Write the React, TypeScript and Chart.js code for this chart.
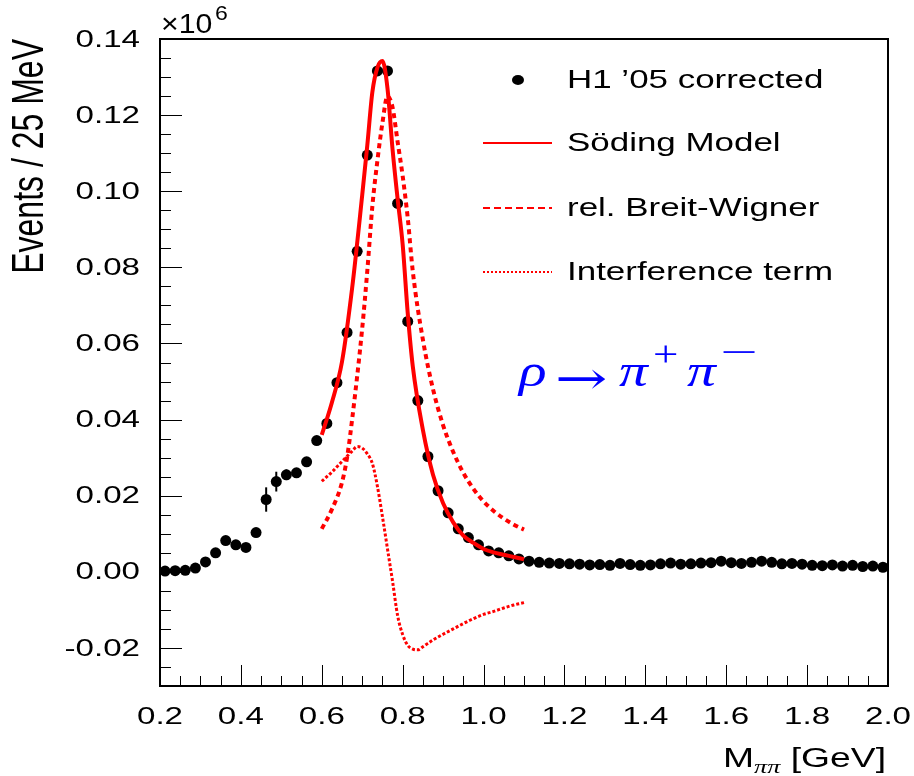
import React, { useEffect, useRef } from 'react';
import { Chart, registerables } from 'chart.js';

Chart.register(...registerables);

// ---------- data ----------
const massBins = [
  0.2125, 0.2375, 0.2625, 0.2875, 0.3125, 0.3375, 0.3625, 0.3875, 0.4125, 0.4375,
  0.4625, 0.4875, 0.5125, 0.5375, 0.5625, 0.5875, 0.6125, 0.6375, 0.6625, 0.6875,
  0.7125, 0.7375, 0.7625, 0.7875, 0.8125, 0.8375, 0.8625, 0.8875, 0.9125, 0.9375,
  0.9625, 0.9875, 1.0125, 1.0375, 1.0625, 1.0875, 1.1125, 1.1375, 1.1625, 1.1875,
  1.2125, 1.2375, 1.2625, 1.2875, 1.3125, 1.3375, 1.3625, 1.3875, 1.4125, 1.4375,
  1.4625, 1.4875, 1.5125, 1.5375, 1.5625, 1.5875, 1.6125, 1.6375, 1.6625, 1.6875,
  1.7125, 1.7375, 1.7625, 1.7875, 1.8125, 1.8375, 1.8625, 1.8875, 1.9125, 1.9375,
  1.9625, 1.9875,
];
const h1Events = [
  0.0002, 0.0003, 0.0004, 0.0010, 0.0026, 0.0050, 0.0082, 0.0071, 0.0064, 0.0103,
  0.0190, 0.0237, 0.0255, 0.0260, 0.0289, 0.0345, 0.0390, 0.0497, 0.0629, 0.0842,
  0.1095, 0.1316, 0.1316, 0.0968, 0.0658, 0.0450, 0.0303, 0.0213, 0.0155, 0.0113,
  0.0090, 0.0071, 0.0055, 0.0050, 0.0042, 0.0034, 0.0028, 0.0025, 0.0023, 0.0022,
  0.0021, 0.0020, 0.0018, 0.0019, 0.0017, 0.0022, 0.0019, 0.0017, 0.0018, 0.0021,
  0.0023, 0.0020, 0.0021, 0.0023, 0.0024, 0.0028, 0.0024, 0.0022, 0.0025, 0.0028,
  0.0025, 0.0021, 0.0022, 0.0020, 0.0017, 0.0016, 0.0018, 0.0015, 0.0017, 0.0014,
  0.0015, 0.0012,
];
const h1Errors = [
  0.0004, 0.0004, 0.0004, 0.0005, 0.0006, 0.0007, 0.0009, 0.0009, 0.0009, 0.0012,
  0.0032, 0.0026, 0.0014, 0.0012, 0.0012, 0.0012, 0.0012, 0.0012, 0.0012, 0.0012,
  0.0012, 0.0012, 0.0012, 0.0012, 0.0010, 0.0009, 0.0008, 0.0007, 0.0006, 0.0006,
  0.0005, 0.0005, 0.0004, 0.0004, 0.0004, 0.0004, 0.0004, 0.0004, 0.0004, 0.0004,
  0.0004, 0.0004, 0.0004, 0.0004, 0.0004, 0.0004, 0.0004, 0.0004, 0.0004, 0.0004,
  0.0004, 0.0004, 0.0004, 0.0004, 0.0004, 0.0004, 0.0004, 0.0004, 0.0004, 0.0004,
  0.0004, 0.0004, 0.0004, 0.0004, 0.0004, 0.0004, 0.0004, 0.0004, 0.0004, 0.0004,
  0.0004, 0.0004,
];

const modelMass = [
  0.6, 0.625, 0.65, 0.675, 0.7, 0.7125, 0.725, 0.7375, 0.75, 0.7625,
  0.775, 0.7875, 0.8, 0.8125, 0.825, 0.85, 0.875, 0.9, 0.925, 0.95,
  0.975, 1.0, 1.025, 1.05, 1.075, 1.1,
];
const sodingModel = [
  0.036, 0.0445, 0.0552, 0.0745, 0.099, 0.112, 0.126, 0.1325, 0.1342, 0.127,
  0.111, 0.098, 0.086, 0.068, 0.054, 0.0373, 0.0255, 0.018, 0.013, 0.0095,
  0.0076, 0.006, 0.0051, 0.0045, 0.0039, 0.0033,
];

const bwMass = [
  0.6, 0.625, 0.65, 0.6625, 0.675, 0.7, 0.7125, 0.725, 0.7375, 0.75,
  0.7625, 0.775, 0.7875, 0.8, 0.8125, 0.825, 0.85, 0.875, 0.9, 0.925,
  0.95, 0.975, 1.0, 1.025, 1.05, 1.075, 1.1,
];
const breitWigner = [
  0.0113, 0.0164, 0.0235, 0.0300, 0.040, 0.064, 0.079, 0.096, 0.108, 0.118,
  0.125, 0.122, 0.113, 0.104, 0.093, 0.079, 0.061, 0.048, 0.0385, 0.0315,
  0.026, 0.0218, 0.0185, 0.016, 0.014, 0.0124, 0.0111,
];

const interfMass = [
  0.6, 0.625, 0.65, 0.675, 0.6875, 0.7, 0.7125, 0.725, 0.7375, 0.75,
  0.7625, 0.775, 0.7875, 0.8, 0.8125, 0.825, 0.8375, 0.85, 0.875, 0.9,
  0.925, 0.95, 0.975, 1.0, 1.025, 1.05, 1.075, 1.1,
];
const interference = [
  0.0238, 0.0262, 0.029, 0.0317, 0.0329, 0.0325, 0.031, 0.0285, 0.0225, 0.0145,
  0.006, -0.0025, -0.0115, -0.0165, -0.0193, -0.0203, -0.0205, -0.0197, -0.0179, -0.0164,
  -0.015, -0.0136, -0.0123, -0.0112, -0.0104, -0.0095, -0.0087, -0.0081,
];

const xTickValues = [0.2, 0.4, 0.6, 0.8, 1.0, 1.2, 1.4, 1.6, 1.8, 2.0];
const xTickLabels = ['0.2', '0.4', '0.6', '0.8', '1.0', '1.2', '1.4', '1.6', '1.8', '2.0'];
const yTickValues = [-0.02, 0, 0.02, 0.04, 0.06, 0.08, 0.1, 0.12, 0.14];
const yTickLabels = ['-0.02', '0.00', '0.02', '0.04', '0.06', '0.08', '0.10', '0.12', '0.14'];

const legendLabels = ["H1 \u201905 corrected", 'S\u00f6ding Model', 'rel. Breit-Wigner', 'Interference term'];

// ---------- drawing helpers ----------
const SANS = '"Liberation Sans", Arial, Helvetica, sans-serif';
const SERIF = '"Liberation Serif", "DejaVu Serif", serif';
const SX = 1.38;

function text(
  ctx: CanvasRenderingContext2D,
  s: string,
  x: number,
  y: number,
  font: string,
  align: CanvasTextAlign,
  sx: number,
  color = '#000',
  baseline: CanvasTextBaseline = 'middle'
) {
  ctx.save();
  ctx.translate(x, y);
  ctx.scale(sx, 1);
  ctx.font = font;
  ctx.fillStyle = color;
  ctx.textAlign = align;
  ctx.textBaseline = baseline;
  ctx.fillText(s, 0, 0);
  ctx.restore();
}

function textWidth(ctx: CanvasRenderingContext2D, s: string, font: string, sx: number) {
  ctx.save();
  ctx.font = font;
  const w = ctx.measureText(s).width * sx;
  ctx.restore();
  return w;
}

const errorBarPlugin = {
  id: 'errorBars',
  beforeDatasetsDraw(chart: any) {
    const { ctx, scales } = chart;
    const xs = scales.x;
    const ys = scales.y;
    ctx.save();
    ctx.strokeStyle = '#000';
    ctx.lineWidth = 2;
    massBins.forEach((m, i) => {
      const px = xs.getPixelForValue(m);
      ctx.beginPath();
      ctx.moveTo(px, ys.getPixelForValue(h1Events[i] - h1Errors[i]));
      ctx.lineTo(px, ys.getPixelForValue(h1Events[i] + h1Errors[i]));
      ctx.stroke();
    });
    ctx.restore();
  },
};

const framePlugin = {
  id: 'rootFrame',
  afterDraw(chart: any) {
    const { ctx, chartArea: a, scales } = chart;
    const xs = scales.x;
    const ys = scales.y;
    ctx.save();
    // frame
    ctx.strokeStyle = '#000';
    ctx.lineWidth = 2;
    ctx.strokeRect(a.left, a.top, a.right - a.left, a.bottom - a.top);

    // y ticks (inside)
    ctx.lineWidth = 1;
    for (let i = -6; i <= 28; i++) {
      const v = i * 0.005;
      const py = Math.round(ys.getPixelForValue(v)) + 0.5;
      const len = i % 4 === 0 ? 22 : 11;
      ctx.beginPath();
      ctx.moveTo(a.left, py);
      ctx.lineTo(a.left + len, py);
      ctx.stroke();
    }
    // x ticks (inside)
    for (let i = 4; i <= 40; i++) {
      const v = i * 0.05;
      const px = Math.round(xs.getPixelForValue(v)) + 0.5;
      const len = i % 4 === 0 ? 21 : 10;
      ctx.beginPath();
      ctx.moveTo(px, a.bottom);
      ctx.lineTo(px, a.bottom - len);
      ctx.stroke();
    }

    // tick labels
    const tickFont = `24px ${SANS}`;
    yTickValues.forEach((v, i) => {
      text(ctx, yTickLabels[i], 140, ys.getPixelForValue(v) + 1, tickFont, 'right', SX);
    });
    xTickValues.forEach((v, i) => {
      text(ctx, xTickLabels[i], xs.getPixelForValue(v), 717, tickFont, 'center', SX);
    });

    // x10^6
    text(ctx, '\u00d710', 161, 26, `27px ${SANS}`, 'left', 1.12);
    text(ctx, '6', 215, 14, `20px ${SANS}`, 'left', 1.15);

    // y title
    ctx.save();
    ctx.translate(31, 39);
    ctx.rotate(-Math.PI / 2);
    ctx.scale(1, 1.38);
    ctx.font = `32px ${SANS}`;
    ctx.fillStyle = '#000';
    ctx.textAlign = 'right';
    ctx.textBaseline = 'middle';
    ctx.fillText('Events / 25 MeV', 0, 0);
    ctx.restore();

    // x title  M_{pipi} [GeV]
    const tFont = `27px ${SANS}`;
    const subFont = `italic 19px ${SERIF}`;
    const wRest = textWidth(ctx, ' [GeV]', tFont, SX);
    const wSub = textWidth(ctx, '\u03c0\u03c0', subFont, SX);
    const wM = textWidth(ctx, 'M', tFont, SX);
    let xx = 886 - wRest - wSub - wM;
    text(ctx, 'M', xx, 767, tFont, 'left', SX, '#000', 'alphabetic');
    xx += wM;
    text(ctx, '\u03c0\u03c0', xx, 773, subFont, 'left', SX, '#000', 'alphabetic');
    xx += wSub;
    text(ctx, ' [GeV]', xx, 767, tFont, 'left', SX, '#000', 'alphabetic');

    // legend
    const lFont = `25.5px ${SANS}`;
    const lx = 567;
    const rows = [81, 144, 209, 273];
    ctx.fillStyle = '#000';
    ctx.beginPath();
    ctx.ellipse(518, rows[0] - 1, 6, 5, 0, 0, Math.PI * 2);
    ctx.fill();
    ctx.strokeStyle = '#ff0000';
    ctx.lineWidth = 2;
    const styles = [[], [7, 4], [2, 2]];
    [1, 2, 3].forEach((r, k) => {
      ctx.setLineDash(styles[k]);
      ctx.beginPath();
      ctx.moveTo(483, rows[r] - 1);
      ctx.lineTo(552, rows[r] - 1);
      ctx.stroke();
    });
    ctx.setLineDash([]);
    legendLabels.forEach((s, i) => text(ctx, s, lx, rows[i], lFont, 'left', 1.37));

    // rho -> pi+ pi-
    const blue = '#0000ff';
    const big = `italic 46px ${SERIF}`;
    const sup = `36px ${SERIF}`;
    text(ctx, '\u03c1', 519, 386, big, 'left', 1.25, blue, 'alphabetic');
    text(ctx, '\u2192', 555, 394, `46px "DejaVu Serif", serif`, 'left', 1.36, blue, 'alphabetic');
    text(ctx, '\u03c0', 619, 386, big, 'left', 1.25, blue, 'alphabetic');
    text(ctx, '+', 653, 366, sup, 'left', 1.25, blue, 'alphabetic');
    text(ctx, '\u03c0', 687, 386, big, 'left', 1.25, blue, 'alphabetic');
    text(ctx, '\u2212', 720, 364, sup, 'left', 1.85, blue, 'alphabetic');

    ctx.restore();
  },
};

export default function App() {
  const ref = useRef<HTMLCanvasElement | null>(null);

  useEffect(() => {
    document.body.style.margin = '0';
    const canvas = ref.current;
    if (!canvas) return;
    const pts = (xs: number[], ys: number[]) => xs.map((x, i) => ({ x, y: ys[i] }));
    const chart = new Chart(canvas, {
      type: 'line',
      data: {
        datasets: [
          {
            label: legendLabels[1],
            data: pts(modelMass, sodingModel),
            borderColor: '#ff0000',
            borderWidth: 4,
            pointRadius: 0,
            cubicInterpolationMode: 'monotone',
            fill: false,
            order: 1,
          },
          {
            label: legendLabels[2],
            data: pts(bwMass, breitWigner),
            borderColor: '#ff0000',
            borderWidth: 4,
            borderDash: [5, 4],
            pointRadius: 0,
            cubicInterpolationMode: 'monotone',
            fill: false,
            order: 2,
          },
          {
            label: legendLabels[3],
            data: pts(interfMass, interference),
            borderColor: '#ff0000',
            borderWidth: 3,
            borderDash: [3, 2],
            pointRadius: 0,
            cubicInterpolationMode: 'monotone',
            fill: false,
            order: 3,
          },
          {
            label: legendLabels[0],
            data: pts(massBins, h1Events),
            showLine: false,
            pointRadius: 5.5,
            pointBackgroundColor: '#000',
            pointBorderWidth: 0,
            borderColor: '#000',
            order: 10,
          },
        ],
      },
      options: {
        animation: false,
        responsive: false,
        maintainAspectRatio: false,
        layout: { padding: { left: 160, right: 26, top: 39, bottom: 90 } },
        plugins: { legend: { display: false }, tooltip: { enabled: false } },
        scales: {
          x: { type: 'linear', min: 0.2, max: 2.0, display: false },
          y: { type: 'linear', min: -0.03, max: 0.14, display: false },
        },
      },
      plugins: [errorBarPlugin, framePlugin],
    });
    return () => chart.destroy();
  }, []);

  return (
    <div style={{ width: 914, height: 776, background: '#fff' }}>
      <canvas ref={ref} width={914} height={776} style={{ display: 'block' }} />
    </div>
  );
}
